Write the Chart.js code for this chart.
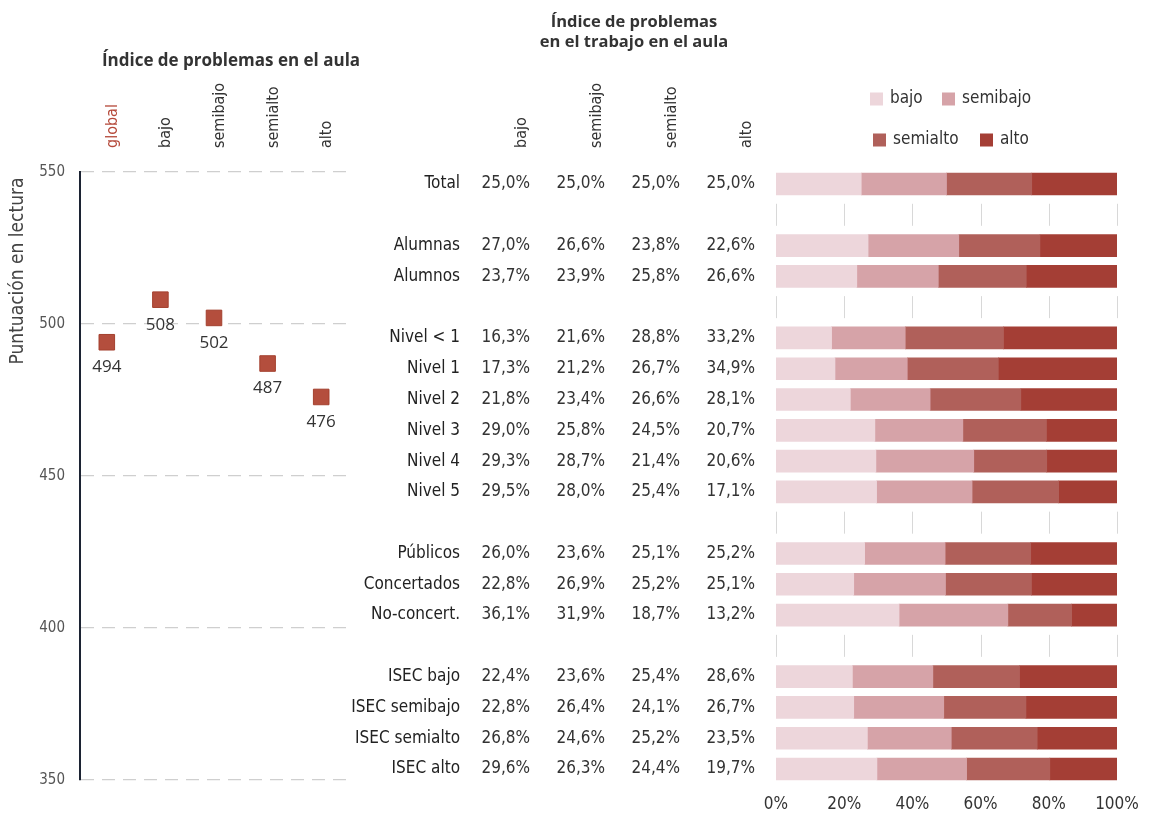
<!DOCTYPE html>
<html><head><meta charset="utf-8">
<script src="https://cdn.jsdelivr.net/npm/chart.js@4"></script>
<style>
html,body{margin:0;padding:0;background:#fff;}
#wrap{position:relative;width:1149px;height:813px;overflow:hidden;background:#fff;}
canvas{position:absolute;left:0;top:0;}
</style></head><body>
<div id="wrap">
<canvas id="bars" width="1149" height="813"></canvas>
<canvas id="scores" width="380" height="813"></canvas>
</div>
<script>
// ---- data: left panel ----
const scoreCategories = ['global', 'bajo', 'semibajo', 'semialto', 'alto'];
const scoreValues = [494, 508, 502, 487, 476];
const scoreTicks = [350, 400, 450, 500, 550];

// ---- data: right panel ----
const rowLabels = ['Total', '', 'Alumnas', 'Alumnos', '', 'Nivel < 1', 'Nivel 1', 'Nivel 2', 'Nivel 3', 'Nivel 4', 'Nivel 5', '', 'Públicos', 'Concertados', 'No-concert.', '', 'ISEC bajo', 'ISEC semibajo', 'ISEC semialto', 'ISEC alto'];
const seriesNames = ['bajo', 'semibajo', 'semialto', 'alto'];
const bajo     = [25.0, null, 27.0, 23.7, null, 16.3, 17.3, 21.8, 29.0, 29.3, 29.5, null, 26.0, 22.8, 36.1, null, 22.4, 22.8, 26.8, 29.6];
const semibajo = [25.0, null, 26.6, 23.9, null, 21.6, 21.2, 23.4, 25.8, 28.7, 28.0, null, 23.6, 26.9, 31.9, null, 23.6, 26.4, 24.6, 26.3];
const semialto = [25.0, null, 23.8, 25.8, null, 28.8, 26.7, 26.6, 24.5, 21.4, 25.4, null, 25.1, 25.2, 18.7, null, 25.4, 24.1, 25.2, 24.4];
const alto     = [25.0, null, 22.6, 26.6, null, 33.2, 34.9, 28.1, 20.7, 20.6, 17.1, null, 25.2, 25.1, 13.2, null, 28.6, 26.7, 23.5, 19.7];
const percentTicks = [0, 20, 40, 60, 80, 100];

// ---- styles ----
const COND = "'Liberation Sans Narrow', 'DejaVu Sans Condensed', sans-serif";
const SANS = "'Open Sans', 'Noto Sans', sans-serif";
const seriesColors = ['#edd6db', '#d6a3a8', '#b0605a', '#a43e35'];
const pointColor = '#b44e3d';
const fmtPct = v => v.toFixed(1).replace('.', ',') + '%';

// ================= right chart (stacked bars) =================
const barPlugin = {
  id: 'barExtras',
  beforeDatasetsDraw(chart) {
    const {ctx, scales: {x, y}} = chart;
    ctx.save();
    ctx.strokeStyle = '#d8d8d8';
    ctx.lineWidth = 1;
    rowLabels.forEach((lab, j) => {
      if (lab !== '') return;
      const yc = y.getPixelForValue(j);
      percentTicks.forEach(v => {
        const px = Math.round(x.getPixelForValue(v)) + 0.5;
        ctx.beginPath(); ctx.moveTo(px, yc - 11); ctx.lineTo(px, yc + 11); ctx.stroke();
      });
    });
    ctx.restore();
  },
  afterDraw(chart) {
    const {ctx, scales: {y}} = chart;
    ctx.save();
    // percentages table
    const colRight = [530, 605, 680, 755];
    ctx.font = '17px ' + COND;
    ctx.fillStyle = '#333';
    ctx.textAlign = 'right';
    ctx.textBaseline = 'middle';
    chart.data.datasets.forEach((ds, i) => {
      ds.data.forEach((v, j) => {
        if (v == null) return;
        ctx.fillText(fmtPct(v), colRight[i], y.getPixelForValue(j));
      });
    });
    // column headers (rotated)
    const headX = [522, 597, 672, 747];
    ctx.font = '16px ' + COND;
    ctx.fillStyle = '#333';
    seriesNames.forEach((n, i) => {
      ctx.save();
      ctx.translate(headX[i], 148);
      ctx.rotate(-Math.PI / 2);
      ctx.textAlign = 'left';
      ctx.textBaseline = 'middle';
      ctx.fillText(n, 0, 0);
      ctx.restore();
    });
    // title
    ctx.font = 'bold 16.5px ' + SANS;
    ctx.fillStyle = '#333';
    ctx.textAlign = 'center';
    ctx.fillText('Índice de problemas', 634, 22);
    ctx.fillText('en el trabajo en el aula', 634, 42);
    // legend
    const legPos = [[870, 99], [942, 99], [873, 140], [980, 140]];
    ctx.font = '17px ' + COND;
    ctx.textAlign = 'left';
    chart.data.datasets.forEach((ds, i) => {
      const [lx, ly] = legPos[i];
      ctx.fillStyle = ds.backgroundColor;
      ctx.fillRect(lx, ly - 6.5, 13, 13);
      ctx.fillStyle = '#333';
      ctx.fillText(ds.label, lx + 20, ly);
    });
    ctx.restore();
  }
};

new Chart(document.getElementById('bars'), {
  type: 'bar',
  data: {
    labels: rowLabels,
    datasets: [bajo, semibajo, semialto, alto].map((d, i) => ({
      label: seriesNames[i],
      data: d,
      backgroundColor: seriesColors[i],
      borderWidth: 0,
      barThickness: 22
    }))
  },
  options: {
    indexAxis: 'y',
    responsive: false,
    animation: false,
    events: [],
    layout: {padding: {top: 168.6, right: 32, bottom: 0, left: 0}},
    plugins: {legend: {display: false}, tooltip: {enabled: false}},
    scales: {
      x: {
        stacked: true,
        min: percentTicks[0], max: percentTicks[percentTicks.length - 1],
        grid: {display: false, drawTicks: false},
        border: {display: false},
        ticks: {stepSize: percentTicks[1] - percentTicks[0], callback: v => v + '%', font: {family: COND, size: 17}, color: '#333', padding: 10},
        afterFit: s => { s.height = 28.6; s.paddingLeft = 0; s.paddingRight = 0; }
      },
      y: {
        stacked: true,
        grid: {display: false, drawTicks: false},
        border: {display: false},
        ticks: {autoSkip: false, font: {family: COND, size: 17}, color: '#222', padding: 316},
        afterFit: s => { s.width = 776; s.paddingTop = 0; s.paddingBottom = 0; }
      }
    }
  },
  plugins: [barPlugin]
});

// ================= left chart (scores) =================
const scorePlugin = {
  id: 'scoreExtras',
  afterDatasetsDraw(chart) {
    const {ctx} = chart;
    const meta = chart.getDatasetMeta(0);
    ctx.save();
    ctx.font = '17px ' + SANS;
    ctx.fillStyle = '#333';
    ctx.textAlign = 'center';
    ctx.textBaseline = 'middle';
    meta.data.forEach((pt, i) => {
      ctx.fillText(String(chart.data.datasets[0].data[i]), pt.x, pt.y + 25);
    });
    ctx.restore();
  },
  afterDraw(chart) {
    const {ctx} = chart;
    ctx.save();
    ctx.font = 'bold 17px ' + SANS;
    ctx.fillStyle = '#333';
    ctx.textAlign = 'center';
    ctx.textBaseline = 'middle';
    ctx.fillText('Índice de problemas en el aula', 231, 61);
    ctx.translate(18, 271);
    ctx.rotate(-Math.PI / 2);
    ctx.font = '19px ' + COND;
    ctx.fillStyle = '#444';
    ctx.fillText('Puntuación en lectura', 0, 0);
    ctx.restore();
  }
};

new Chart(document.getElementById('scores'), {
  type: 'line',
  data: {
    labels: scoreCategories,
    datasets: [{
      data: scoreValues,
      showLine: false,
      pointStyle: 'rect',
      pointRadius: 11,
      backgroundColor: pointColor,
      borderColor: '#a4412f',
      borderWidth: 1
    }]
  },
  options: {
    responsive: false,
    animation: false,
    events: [],
    layout: {padding: {top: 0, right: 32, bottom: 33, left: 0}},
    plugins: {legend: {display: false}, tooltip: {enabled: false}},
    scales: {
      x: {
        type: 'category',
        position: 'top',
        offset: true,
        grid: {display: false, drawTicks: false},
        border: {display: false},
        ticks: {
          minRotation: 90, maxRotation: 90, padding: 24, labelOffset: 25,
          font: {family: COND, size: 16},
          color: c => c.index === 0 ? '#b5493a' : '#333'
        },
        afterFit: s => { s.height = 172; }
      },
      y: {
        min: scoreTicks[0], max: scoreTicks[scoreTicks.length - 1],
        grid: {color: '#cfcfcf', lineWidth: 1.2, drawTicks: false},
        border: {display: true, color: '#1c2333', width: 2, dash: [13, 8]},
        ticks: {stepSize: scoreTicks[1] - scoreTicks[0], font: {family: COND, size: 15}, color: '#555', padding: 15},
        afterFit: s => { s.width = 80; }
      }
    }
  },
  plugins: [scorePlugin]
});
</script>
</body></html>
